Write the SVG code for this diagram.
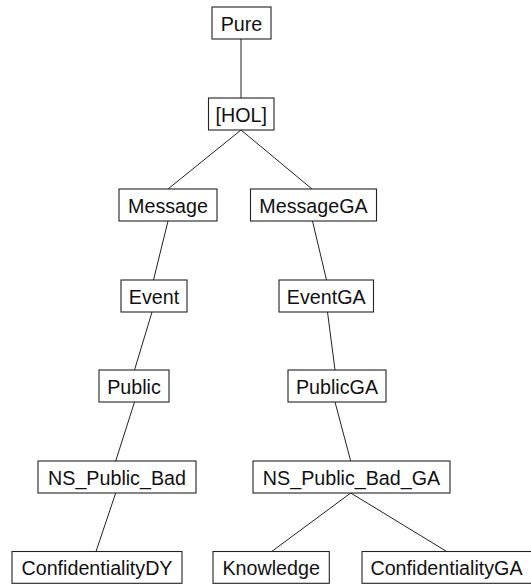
<svg xmlns="http://www.w3.org/2000/svg" width="531" height="584" viewBox="0 0 531 584">
<style>
.n rect{fill:#fff;stroke:#222;stroke-width:1.1}
.n text{font-family:"Liberation Sans",Arial,sans-serif;font-size:19.7px;fill:#111;text-anchor:middle}
#edges line{stroke:#222;stroke-width:1}
</style>
<rect width="531" height="584" fill="#fff"/>
<g id="edges">
<line x1="241" y1="39" x2="241" y2="98"/>
<line x1="241" y1="130" x2="168" y2="189"/>
<line x1="241" y1="130" x2="312" y2="189"/>
<line x1="168" y1="221" x2="153.5" y2="280"/>
<line x1="312.5" y1="221" x2="326.5" y2="280"/>
<line x1="152" y1="312" x2="134.5" y2="370"/>
<line x1="327.5" y1="312" x2="335" y2="370"/>
<line x1="134.5" y1="402" x2="115.7" y2="461"/>
<line x1="335" y1="402" x2="350.7" y2="461"/>
<line x1="115.7" y1="493" x2="96" y2="551.5"/>
<line x1="350.7" y1="493" x2="271.7" y2="551.5"/>
<line x1="350.7" y1="493" x2="446.7" y2="551.5"/>
</g>
<g id="pure" class="n"><rect x="212" y="7" width="59" height="32"/><text x="241.5" y="30.5">Pure</text></g>
<g id="hol" class="n"><rect x="208.5" y="98" width="65.5" height="32"/><text x="241.3" y="121.5">[HOL]</text></g>
<g id="message" class="n"><rect x="119" y="189" width="98" height="32"/><text x="168" y="212.5">Message</text></g>
<g id="messagega" class="n"><rect x="250.5" y="189" width="126" height="32"/><text x="313.5" y="212.5">MessageGA</text></g>
<g id="event" class="n"><rect x="121" y="280" width="66" height="32"/><text x="154" y="303.5">Event</text></g>
<g id="eventga" class="n"><rect x="279" y="280" width="94.5" height="32"/><text x="326.2" y="303.5">EventGA</text></g>
<g id="public" class="n"><rect x="99" y="370" width="70" height="32"/><text x="134" y="393.5">Public</text></g>
<g id="publicga" class="n"><rect x="288" y="370" width="98" height="32"/><text x="337" y="393.5">PublicGA</text></g>
<g id="nspublicbad" class="n"><rect x="38" y="461" width="158" height="32"/><text x="117" y="484.5">NS_Public_Bad</text></g>
<g id="nspublicbadga" class="n"><rect x="253" y="461" width="197" height="32"/><text x="351.5" y="484.5">NS_Public_Bad_GA</text></g>
<g id="confidentialitydy" class="n"><rect x="12" y="551.5" width="170" height="31.8"/><text x="97" y="575">ConfidentialityDY</text></g>
<g id="knowledge" class="n"><rect x="213" y="551.5" width="116.3" height="31.8"/><text x="271.2" y="575">Knowledge</text></g>
<g id="confidentialityga" class="n"><rect x="362" y="551.5" width="172" height="31.8"/><text x="446.5" y="575">ConfidentialityGA</text></g>
</svg>
